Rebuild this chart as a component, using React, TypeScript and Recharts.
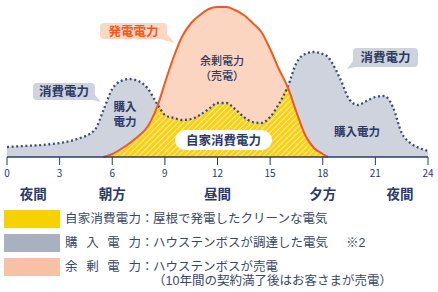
import { ComposedChart, Area, Line, XAxis, YAxis } from 'recharts';

// hour of day (0-24) (relative power)
const hours = [0, 1, 2, 3, 4, 5, 5.5, 6, 6.5, 7, 7.5, 8, 8.6, 9, 9.5, 10, 10.5, 11, 11.5, 12, 12.5, 13, 13.5, 14, 14.5, 15, 15.5, 16, 16.5, 17, 17.5, 18, 18.3, 18.5, 19, 19.5, 20, 20.5, 21, 21.5, 22, 22.5, 23, 23.5, 24];
const consumption = [10, 11, 12, 14, 18, 27, 47, 68, 76, 78, 76, 69, 52, 42, 39, 37, 38, 42, 48, 54, 54, 48, 40, 35, 34, 40, 53, 70, 94, 103, 105, 103, 100, 95, 78, 58, 52, 56, 60, 61, 50, 24, 14, 9, 6];
const generation = [null, null, null, null, null, null, 0, 3, 8, 14, 21, 30, 52, 74, 100, 121, 134, 142, 148, 150, 150, 147, 142, 134, 125, 108, 88, 70, 45, 22, 9, 3, 0, null, null, null, null, null, null, null, null, null, null, null, null];

const hourTicks = [0, 3, 6, 9, 12, 15, 18, 21, 24];
const periodTicks = [1.5, 6, 12, 18, 22.4];
const periodLabels = ['夜間', '朝方', '昼間', '夕方', '夜間'];

const legendRows = [
  { color: '#f5d200', label: '自家消費電力', text: ['屋根で発電したクリーンな電気'], note: '' },
  { color: '#a9b0c0', label: '購入電力', text: ['ハウステンボスが調達した電気'], note: '※2' },
  { color: '#f8c1a6', label: '余剰電力', text: ['ハウステンボスが売電', '（10年間の契約満了後はお客さまが売電）'], note: '' },
];

const data = hours.map((h, i) => {
  const gen = generation[i];
  return {
    hour: h,
    cons: consumption[i],
    gen,
    self: gen == null ? null : Math.min(consumption[i], gen),
  };
});

const NAVY = '#2b3a67';
const FONT = '"Noto Sans CJK JP", "Noto Sans", sans-serif';
const LEGEND_FONT = '"Liberation Sans", "Noto Sans CJK JP", sans-serif';

function Callout({ x, y, w, h, fill, color, text, tail }: { x: number; y: number; w: number; h: number; fill: string; color: string; text: string; tail: string }) {
  return (
    <g>
      <path d={tail} fill={fill} />
      <rect x={x} y={y} width={w} height={h} rx={4} fill={fill} />
      <text x={x + w / 2} y={y + h / 2 + 4.5} textAnchor="middle" fontSize={12.5} fontWeight={700} fill={color} fontFamily={FONT}>
        {text}
      </text>
    </g>
  );
}

export default function App() {
  return (
    <div style={{ position: 'absolute', left: 0, top: 0, width: 438, height: 292, background: '#fff', fontFamily: FONT }}>
      <ComposedChart width={438} height={205} data={data} margin={{ top: 7, right: 10, left: 7, bottom: 0 }}>
        <defs>
          <pattern id="hatch" width="4" height="4" patternUnits="userSpaceOnUse" patternTransform="rotate(45)">
            <rect width="4" height="4" fill="#f6d11a" />
            <line x1="0" y1="0" x2="0" y2="4" stroke="#fff8d8" strokeWidth="1.3" />
          </pattern>
        </defs>
        <XAxis
          dataKey="hour"
          type="number"
          domain={[0, 24]}
          ticks={hourTicks}
          height={24}
          tickSize={8}
          tickMargin={5}
          axisLine={{ stroke: NAVY, strokeWidth: 1.5 }}
          tickLine={{ stroke: NAVY, strokeWidth: 1 }}
          tick={{ fill: NAVY, fontSize: 10, fontFamily: FONT }}
        />
        <XAxis
          xAxisId="p"
          dataKey="hour"
          type="number"
          domain={[0, 24]}
          ticks={periodTicks}
          height={24}
          tickSize={0}
          tickMargin={8}
          axisLine={false}
          tickLine={false}
          interval={0}
          tickFormatter={(v) => periodLabels[periodTicks.indexOf(v)]}
          tick={{ fill: NAVY, fontSize: 13.5, fontWeight: 700, fontFamily: FONT }}
        />
        <YAxis hide domain={[0, 150]} />
        <Area type="monotone" dataKey="cons" fill="#cfd3dd" fillOpacity={1} stroke="none" isAnimationActive={false} />
        <Area type="monotone" dataKey="gen" fill="#fcd5c0" fillOpacity={1} stroke="none" isAnimationActive={false} />
        <Area type="monotone" dataKey="self" fill="url(#hatch)" fillOpacity={1} stroke="none" isAnimationActive={false} />
        <Line type="monotone" dataKey="cons" stroke="#3c4a7c" strokeWidth={2.3} strokeDasharray="2 2.6" dot={false} isAnimationActive={false} />
        <Line type="monotone" dataKey="gen" stroke="#f05a1e" strokeWidth={2} dot={false} isAnimationActive={false} />
      </ComposedChart>

      <svg width={438} height={205} style={{ position: 'absolute', left: 0, top: 0, pointerEvents: 'none' }}>
        <Callout x={100} y={23} w={67} h={16} fill="#fcd8c4" color="#f05a1e" text="発電電力" tail="M156 38 L167 34 L175 43 Z" />
        <Callout x={33} y={83} w={62} h={17} fill="#cfd3dd" color={NAVY} text="消費電力" tail="M88 99 L95 95 L101 102 Z" />
        <Callout x={353} y={48} w={65} h={19} fill="#cfd3dd" color={NAVY} text="消費電力" tail="M360 66 L353 61 L347 69 Z" />
        <rect x={175} y={130} width={97} height={20} rx={10} fill="#fff" />
        <text x={223.5} y={144.5} textAnchor="middle" fontSize={12.5} fontWeight={700} fill={NAVY} fontFamily={FONT}>自家消費電力</text>
        <text x={222} y={64.5} textAnchor="middle" fontSize={11} fontWeight={500} fill={NAVY} fontFamily={FONT}>余剰電力</text>
        <text x={222} y={79.5} textAnchor="middle" fontSize={11} fontWeight={500} fill={NAVY} fontFamily={FONT}>（売電）</text>
        <text x={125} y={111} textAnchor="middle" fontSize={11.5} fontWeight={700} fill={NAVY} fontFamily={FONT}>購入</text>
        <text x={125} y={126} textAnchor="middle" fontSize={11.5} fontWeight={700} fill={NAVY} fontFamily={FONT}>電力</text>
        <text x={357} y={136} textAnchor="middle" fontSize={11.5} fontWeight={700} fill={NAVY} fontFamily={FONT}>購入電力</text>
      </svg>

      {legendRows.map((r, i) => (
        <div key={r.label} style={{ position: 'absolute', left: 4, top: 210 + i * 24, display: 'flex', alignItems: 'flex-start', fontSize: 12.5, lineHeight: '14px', fontFamily: LEGEND_FONT, color: '#3a4766', whiteSpace: 'nowrap' }}>
          <div style={{ width: 56, height: 18, background: r.color, marginRight: 5 }} />
          <span style={{ display: 'inline-block', width: 76, marginTop: 2, textAlign: 'justify', textAlignLast: 'justify' }}>{r.label}</span>
          <span style={{ width: 12, marginTop: 2, textAlign: 'center' }}>：</span>
          <span style={{ marginTop: 2 }}>
            {r.text.map((t, j) => (
              <span key={j}>
                {j > 0 && <br />}
                {t}
              </span>
            ))}
          </span>
          {r.note && <span style={{ marginLeft: 18, marginTop: 2 }}>{r.note}</span>}
        </div>
      ))}
    </div>
  );
}
